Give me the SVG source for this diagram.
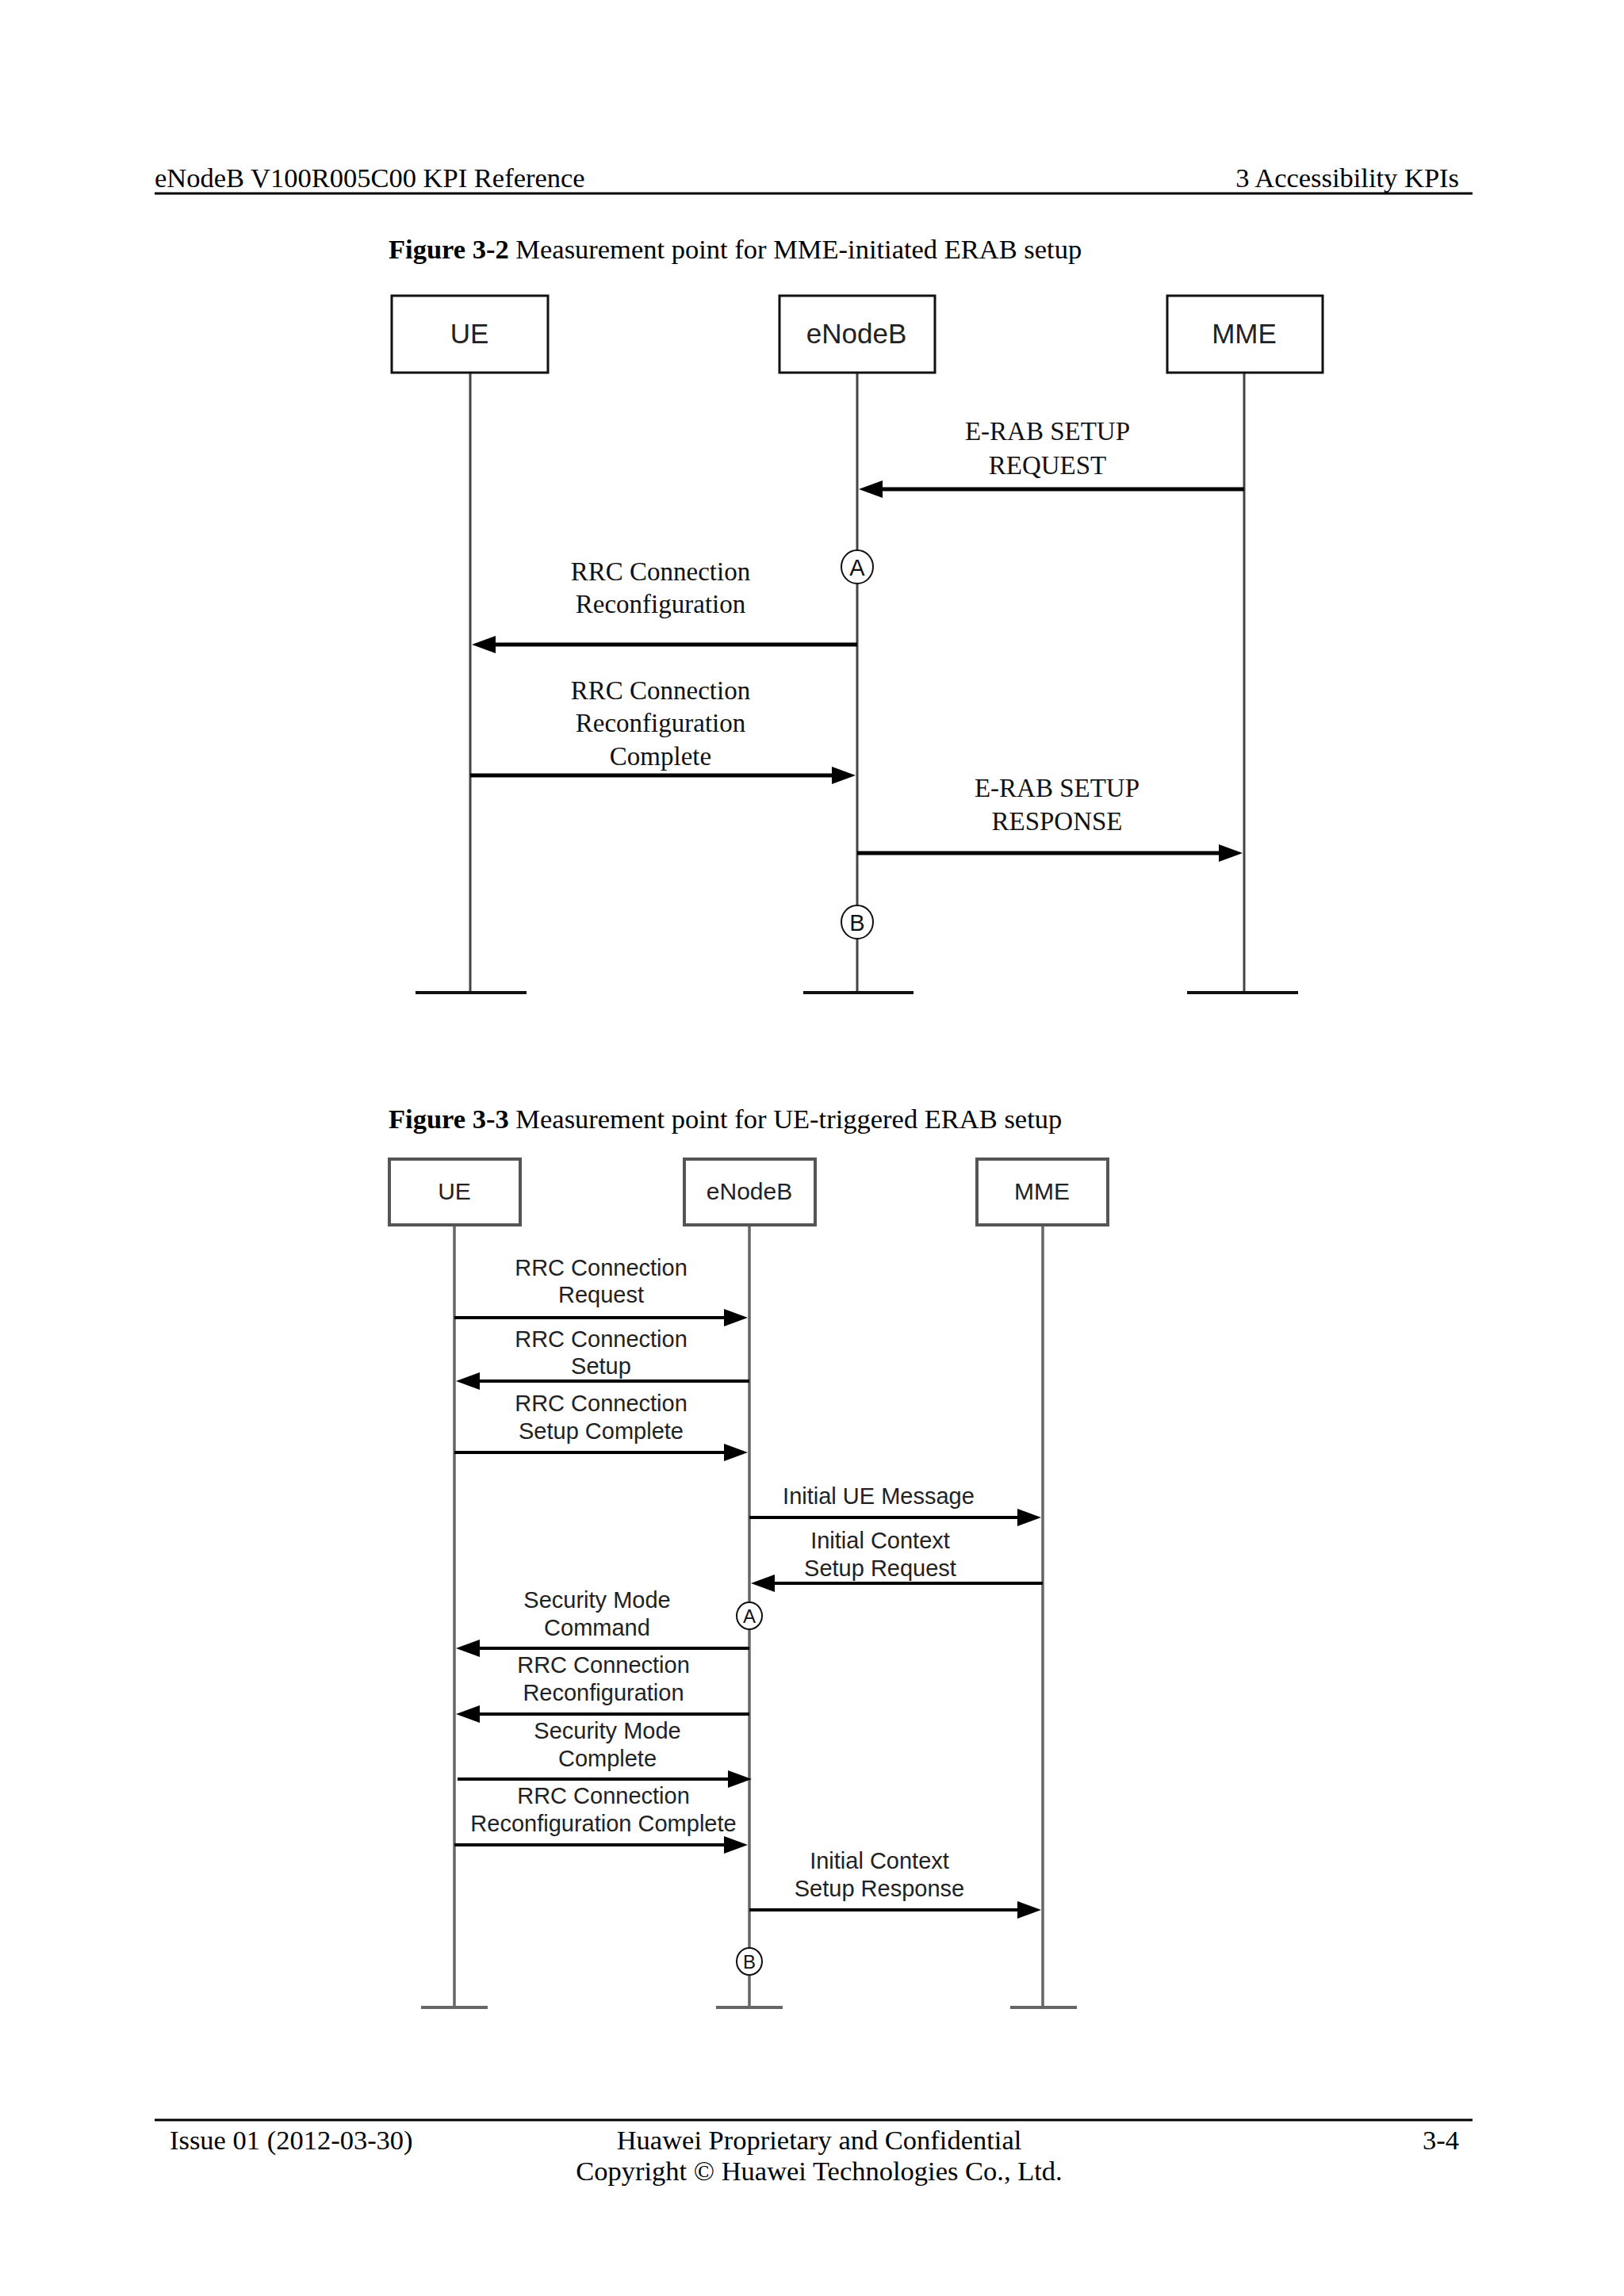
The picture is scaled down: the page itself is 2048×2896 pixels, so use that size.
<svg xmlns="http://www.w3.org/2000/svg" width="2048" height="2896" viewBox="0 0 2048 2896">
<style>
.pg{font-family:"Liberation Serif","Times New Roman",serif;font-size:34.5px;fill:#000}
.b1{fill:#fff;stroke:#111;stroke-width:3}
.b2{fill:#fff;stroke:#555;stroke-width:4}
.t1{font-family:"Liberation Sans",Arial,sans-serif;font-size:35px;fill:#222;text-anchor:middle}
.t2{font-family:"Liberation Sans",Arial,sans-serif;font-size:30px;fill:#222;text-anchor:middle}
.ll1{stroke:#444;stroke-width:3}
.ll2{stroke:#666;stroke-width:3.5}
.bar1{stroke:#111;stroke-width:4}
.bar2{stroke:#666;stroke-width:4}
.m1{font-family:"Liberation Serif","Times New Roman",serif;font-size:33px;fill:#111;text-anchor:middle}
.m2{font-family:"Liberation Sans",Arial,sans-serif;font-size:29px;fill:#222;text-anchor:middle}
.a1{stroke:#000;stroke-width:5;fill:none;marker-end:url(#ah)}
.a2{stroke:#000;stroke-width:4;fill:none;marker-end:url(#ah)}
.c{fill:#fff;stroke:#111;stroke-width:2}
.cl1{font-family:"Liberation Sans",Arial,sans-serif;font-size:29px;fill:#111;text-anchor:middle}
.cl2{font-family:"Liberation Sans",Arial,sans-serif;font-size:24px;fill:#111;text-anchor:middle}
</style>
<defs>
<marker id="ah" markerUnits="userSpaceOnUse" markerWidth="30" markerHeight="22" refX="10" refY="11" orient="auto">
<path d="M0,0 L30,11 L0,22 Z" fill="#000"/>
</marker>
</defs>
<rect width="2048" height="2896" fill="#fff"/>

<g id="header">
<text class="pg" x="195" y="236">eNodeB V100R005C00 KPI Reference</text>
<text class="pg" x="1840" y="236" text-anchor="end">3 Accessibility KPIs</text>
<line x1="195" y1="244" x2="1857" y2="244" stroke="#000" stroke-width="3"/>
</g>

<g id="caption1">
<text class="pg" x="490" y="326"><tspan font-weight="bold">Figure 3-2</tspan> Measurement point for MME-initiated ERAB setup</text>
</g>

<!-- Diagram 1 -->
<g id="d1-lifelines">
<line class="ll1" x1="593" y1="470" x2="593" y2="1252"/>
<line class="ll1" x1="1081" y1="470" x2="1081" y2="1252"/>
<line class="ll1" x1="1569" y1="470" x2="1569" y2="1252"/>
<line class="bar1" x1="524" y1="1252" x2="664" y2="1252"/>
<line class="bar1" x1="1013" y1="1252" x2="1152" y2="1252"/>
<line class="bar1" x1="1497" y1="1252" x2="1637" y2="1252"/>
</g>
<g id="d1-UE"><rect class="b1" x="494" y="373" width="197" height="97"/><text class="t1" x="592" y="433">UE</text></g>
<g id="d1-eNodeB"><rect class="b1" x="983" y="373" width="196" height="97"/><text class="t1" x="1080" y="433">eNodeB</text></g>
<g id="d1-MME"><rect class="b1" x="1472" y="373" width="196" height="97"/><text class="t1" x="1569" y="433">MME</text></g>

<g id="d1-connectors">
<line class="a1" x1="1569" y1="617" x2="1103" y2="617"/>
<line class="a1" x1="1081" y1="813" x2="615" y2="813"/>
<line class="a1" x1="593" y1="978" x2="1059" y2="978"/>
<line class="a1" x1="1081" y1="1076" x2="1547" y2="1076"/>
</g>
<g id="d1-labels">
<text class="m1" x="1321" y="555">E-RAB SETUP</text>
<text class="m1" x="1321" y="598">REQUEST</text>
<text class="m1" x="833" y="732">RRC Connection</text>
<text class="m1" x="833" y="773">Reconfiguration</text>
<text class="m1" x="833" y="882">RRC Connection</text>
<text class="m1" x="833" y="923">Reconfiguration</text>
<text class="m1" x="833" y="965">Complete</text>
<text class="m1" x="1333" y="1005">E-RAB SETUP</text>
<text class="m1" x="1333" y="1047">RESPONSE</text>
</g>
<g id="d1-pointA"><ellipse class="c" cx="1081" cy="715" rx="20" ry="21"/><text class="cl1" x="1081" y="726">A</text></g>
<g id="d1-pointB"><ellipse class="c" cx="1081" cy="1163" rx="20" ry="21"/><text class="cl1" x="1081" y="1174">B</text></g>

<g id="caption2">
<text class="pg" x="490" y="1423"><tspan font-weight="bold">Figure 3-3</tspan> Measurement point for UE-triggered ERAB setup</text>
</g>

<!-- Diagram 2 -->
<g id="d2-lifelines">
<line class="ll2" x1="573" y1="1545" x2="573" y2="2532"/>
<line class="ll2" x1="945" y1="1545" x2="945" y2="2532"/>
<line class="ll2" x1="1315" y1="1545" x2="1315" y2="2532"/>
<line class="bar2" x1="531" y1="2532" x2="615" y2="2532"/>
<line class="bar2" x1="903" y1="2532" x2="987" y2="2532"/>
<line class="bar2" x1="1274" y1="2532" x2="1358" y2="2532"/>
</g>
<g id="d2-UE"><rect class="b2" x="491" y="1462" width="165" height="83"/><text class="t2" x="573" y="1513">UE</text></g>
<g id="d2-eNodeB"><rect class="b2" x="863" y="1462" width="165" height="83"/><text class="t2" x="945" y="1513">eNodeB</text></g>
<g id="d2-MME"><rect class="b2" x="1232" y="1462" width="165" height="83"/><text class="t2" x="1314" y="1513">MME</text></g>

<g id="d2-connectors">
<line class="a2" x1="573" y1="1662" x2="923" y2="1662"/>
<line class="a2" x1="945" y1="1742" x2="595" y2="1742"/>
<line class="a2" x1="573" y1="1832" x2="923" y2="1832"/>
<line class="a2" x1="945" y1="1914" x2="1293" y2="1914"/>
<line class="a2" x1="1315" y1="1997" x2="967" y2="1997"/>
<line class="a2" x1="945" y1="2079" x2="595" y2="2079"/>
<line class="a2" x1="945" y1="2162" x2="595" y2="2162"/>
<line class="a2" x1="577" y1="2244" x2="928" y2="2244"/>
<line class="a2" x1="573" y1="2327" x2="923" y2="2327"/>
<line class="a2" x1="945" y1="2409" x2="1293" y2="2409"/>
</g>
<g id="d2-labels">
<text class="m2" x="758" y="1609">RRC Connection</text>
<text class="m2" x="758" y="1643">Request</text>
<text class="m2" x="758" y="1699">RRC Connection</text>
<text class="m2" x="758" y="1733">Setup</text>
<text class="m2" x="758" y="1780">RRC Connection</text>
<text class="m2" x="758" y="1815">Setup Complete</text>
<text class="m2" x="1108" y="1897">Initial UE Message</text>
<text class="m2" x="1110" y="1953">Initial Context</text>
<text class="m2" x="1110" y="1988">Setup Request</text>
<text class="m2" x="753" y="2028">Security Mode</text>
<text class="m2" x="753" y="2063">Command</text>
<text class="m2" x="761" y="2110">RRC Connection</text>
<text class="m2" x="761" y="2145">Reconfiguration</text>
<text class="m2" x="766" y="2193">Security Mode</text>
<text class="m2" x="766" y="2228">Complete</text>
<text class="m2" x="761" y="2275">RRC Connection</text>
<text class="m2" x="761" y="2310">Reconfiguration Complete</text>
<text class="m2" x="1109" y="2357">Initial Context</text>
<text class="m2" x="1109" y="2392">Setup Response</text>
</g>
<g id="d2-pointA"><ellipse class="c" cx="945" cy="2038" rx="16" ry="17"/><text class="cl2" x="945" y="2047">A</text></g>
<g id="d2-pointB"><ellipse class="c" cx="945" cy="2474" rx="16" ry="17"/><text class="cl2" x="945" y="2483">B</text></g>

<g id="footer">
<line x1="195" y1="2674" x2="1857" y2="2674" stroke="#000" stroke-width="3"/>
<text class="pg" x="214" y="2711">Issue 01 (2012-03-30)</text>
<text class="pg" x="1033" y="2711" text-anchor="middle">Huawei Proprietary and Confidential</text>
<text class="pg" x="1033" y="2750" text-anchor="middle">Copyright © Huawei Technologies Co., Ltd.</text>
<text class="pg" x="1840" y="2711" text-anchor="end">3-4</text>
</g>
</svg>
